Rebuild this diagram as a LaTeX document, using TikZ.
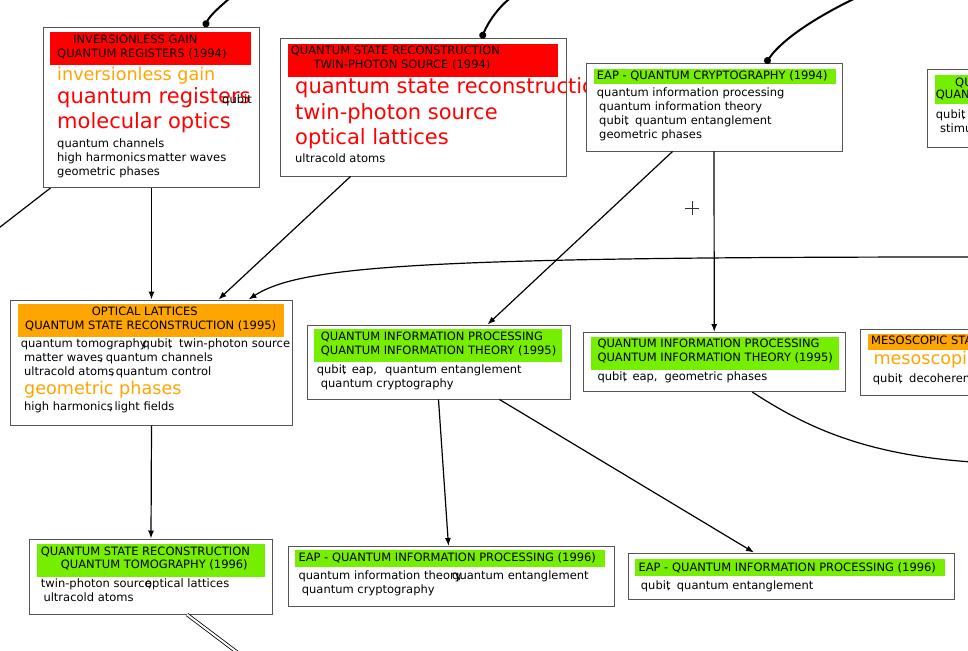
\documentclass[tikz,border=0pt]{standalone}
\usepackage{fontspec}
\setmainfont{DejaVu Sans}
\usetikzlibrary{arrows.meta}
\definecolor{tred}{RGB}{255,0,0}
\definecolor{torange}{RGB}{255,165,0}
\definecolor{tgreen}{RGB}{118,238,0}
\definecolor{frame}{RGB}{85,85,85}
\tikzset{
    box/.style={draw=frame, fill=white, line width=1pt, anchor=north west, inner sep=0pt},
    hdr/.style={anchor=north west, inner sep=0pt, draw=none},
    term/.style={anchor=base west, inner sep=0pt, font=\fontsize{11.5}{13}\selectfont},
    hot/.style={term, text=tred, font=\fontsize{21}{24}\selectfont},
    warm/.style={term, text=torange, font=\fontsize{17.6}{20}\selectfont}
}

\begin{document}
\begin{tikzpicture}[
            x=1pt, y=-1pt,
            causal/.style={-{Latex[length=8pt, width=6pt]}, line width=1.2pt},
            feed/.style={-{Circle[length=7pt]}, line width=2pt},
            link/.style={line width=1.2pt},
            twin/.style={double, double distance=2pt, line width=0.8pt}
        ]
            \useasboundingbox (0,0) rectangle (968,650);
            \clip (0,0) rectangle (968,650);

            % Inversionless Gain (1994)
            \node[box, minimum width=216pt, minimum height=160pt] (boxA) at (43,27) {};
            \node[hdr, fill=tred, minimum width=201pt, minimum height=33pt] (hA) at (50,32) {};
            \node[term] (a1) at (73,43.5) {INVERSIONLESS GAIN};
            \node[term] (a2) at (57,57.5) {QUANTUM REGISTERS (1994)};
            \node[warm] (a3) at (57,80.5) {inversionless gain};
            \node[hot] (a4) at (57,104) {quantum registers};
            \node[term] (a5) at (222,104) {qubit};
            \node[hot] (a6) at (57,128.5) {molecular optics};
            \node[term] (a7) at (57,147.5) {quantum channels};
            \node[term] (a8) at (57,161.5) {high harmonics};
            \node[term] (a9) at (147,161.5) {matter waves};
            \node[term] (a10) at (57,175.5) {geometric phases};

            % Quantum State Reconstruction (1994)
            \node[box, minimum width=286pt, minimum height=137pt] (boxB) at (279.5,38.5) {};
            \node[hdr, fill=tred, minimum width=270pt, minimum height=33pt] (hB) at (288,44) {};
            \node[term] (b1) at (290.7,55) {QUANTUM STATE RECONSTRUCTION};
            \node[term] (b2) at (313.3,69) {TWIN-PHOTON SOURCE (1994)};
            \node[hot] (b3) at (295,94) {quantum state reconstruction};
            \node[hot] (b4) at (295,119) {twin-photon source};
            \node[hot] (b5) at (295,144) {optical lattices};
            \node[term] (b6) at (295,162.7) {ultracold atoms};

            % EAP - Quantum Cryptography (1994)
            \node[box, minimum width=256pt, minimum height=87pt] (boxC) at (585.5,63.5) {};
            \node[hdr, fill=tgreen, minimum width=242pt, minimum height=15pt] (hC) at (594,69) {};
            \node[term] (c1) at (596.7,80) {EAP - QUANTUM CRYPTOGRAPHY (1994)};
            \node[term] (c2) at (596.7,96.5) {quantum information processing};
            \node[term] (c3) at (599,110.5) {quantum information theory};
            \node[term] (c4) at (599,124.5) {qubit\llap{,}};
            \node[term] (c5) at (635,124.5) {quantum entanglement};
            \node[term] (c6) at (599,138) {geometric phases};

            % cut off at the right edge
            \node[box, minimum width=100pt, minimum height=77pt] (boxD) at (926.5,69.5) {};
            \node[hdr, fill=tgreen, minimum width=60pt, minimum height=28.5pt] (hD) at (934.5,75) {};
            \node[term] (d1) at (955,86.5) {QU};
            \node[term] (d2) at (935.7,99) {QUAN};
            \node[term] (d3) at (935.7,118.5) {qubit\llap{,}};
            \node[term] (d4) at (940,132.3) {stimu};

            % Optical Lattices (1995)
            \node[box, minimum width=282pt, minimum height=125pt] (boxE) at (10,299.5) {};
            \node[hdr, fill=torange, minimum width=266.5pt, minimum height=32.5pt] (hE) at (17.5,304) {};
            \node[term] (e1) at (91.7,315) {OPTICAL LATTICES};
            \node[term] (e2) at (25,329) {QUANTUM STATE RECONSTRUCTION (1995)};
            \node[term] (e3) at (20.7,347.3) {quantum tomography\llap{,}};
            \node[term] (e4) at (142.5,347.3) {qubit\llap{,}};
            \node[term] (e5) at (179,347.3) {twin-photon source};
            \node[term] (e6) at (24,361.3) {matter waves\llap{,}};
            \node[term] (e7) at (105.7,361.3) {quantum channels};
            \node[term] (e8) at (24,375) {ultracold atoms\llap{,}};
            \node[term] (e9) at (115.7,375) {quantum control};
            \node[warm] (e10) at (24,394.3) {geometric phases};
            \node[term] (e11) at (24,410.7) {high harmonics\llap{,}};
            \node[term] (e12) at (114.3,410.7) {light fields};

            % Quantum Information Processing (1995), left
            \node[box, minimum width=263pt, minimum height=74pt] (boxF) at (306.5,324.5) {};
            \node[hdr, fill=tgreen, minimum width=247.5pt, minimum height=33pt] (hF) at (314,328.5) {};
            \node[term] (f1) at (320.7,340.7) {QUANTUM INFORMATION PROCESSING};
            \node[term] (f2) at (320.7,354) {QUANTUM INFORMATION THEORY (1995)};
            \node[term] (f3) at (316.7,373.3) {qubit\llap{,}};
            \node[term] (f4) at (351.7,373.3) {eap,};
            \node[term] (f5) at (385,373.3) {quantum entanglement};
            \node[term] (f6) at (320.7,387.3) {quantum cryptography};

            % Quantum Information Processing (1995), right
            \node[box, minimum width=262.5pt, minimum height=59pt] (boxG) at (582.5,332) {};
            \node[hdr, fill=tgreen, minimum width=247.5pt, minimum height=33.5pt] (hG) at (591,336.5) {};
            \node[term] (g1) at (597.3,347.7) {QUANTUM INFORMATION PROCESSING};
            \node[term] (g2) at (597.3,361.3) {QUANTUM INFORMATION THEORY (1995)};
            \node[term] (g3) at (597.3,380.7) {qubit\llap{,}};
            \node[term] (g4) at (632.3,380.7) {eap,};
            \node[term] (g5) at (664.3,380.7) {geometric phases};

            % cut off at the right edge
            \node[box, minimum width=150pt, minimum height=66.5pt] (boxH) at (859.5,328.5) {};
            \node[hdr, fill=torange, minimum width=150pt, minimum height=16.5pt] (hH) at (867.5,333.5) {};
            \node[term] (h1) at (871,344.5) {MESOSCOPIC STA};
            \node[warm] (h2) at (873.3,364) {mesoscopi};
            \node[term] (h3) at (872.7,382.7) {qubit\llap{,}};
            \node[term] (h4) at (909,382.7) {decoheren};

            % Quantum State Reconstruction (1996)
            \node[box, minimum width=243pt, minimum height=75pt] (boxI) at (29,538.5) {};
            \node[hdr, fill=tgreen, minimum width=228.5pt, minimum height=32.5pt] (hI) at (36.5,544) {};
            \node[term] (i1) at (40.7,555) {QUANTUM STATE RECONSTRUCTION};
            \node[term] (i2) at (60.7,568.3) {QUANTUM TOMOGRAPHY (1996)};
            \node[term] (i3) at (40.7,587.3) {twin-photon source\llap{,}};
            \node[term] (i4) at (145,587.3) {optical lattices};
            \node[term] (i5) at (43.3,601.3) {ultracold atoms};

            % EAP - Quantum Information Processing (1996), left
            \node[box, minimum width=326pt, minimum height=60pt] (boxJ) at (287.5,546) {};
            \node[hdr, fill=tgreen, minimum width=310pt, minimum height=17pt] (hJ) at (295,550) {};
            \node[term] (j1) at (298.3,561.7) {EAP - QUANTUM INFORMATION PROCESSING (1996)};
            \node[term] (j2) at (298.3,579) {quantum information theory\llap{,}};
            \node[term] (j3) at (452,579) {quantum entanglement};
            \node[term] (j4) at (301.7,593.3) {quantum cryptography};

            % EAP - Quantum Information Processing (1996), right
            \node[box, minimum width=326pt, minimum height=46pt] (boxK) at (627.5,552.5) {};
            \node[hdr, fill=tgreen, minimum width=310pt, minimum height=17.5pt] (hK) at (635,558.5) {};
            \node[term] (k1) at (638.3,571.7) {EAP - QUANTUM INFORMATION PROCESSING (1996)};
            \node[term] (k2) at (640.7,589.3) {qubit\llap{,}};
            \node[term] (k3) at (676.7,589.3) {quantum entanglement};

            % coming in from above
            \coordinate (inA) at (231,-3);
            \coordinate (inB) at (512,-3);
            \coordinate (inC) at (858,-3);
            \draw[feed] (inA) .. controls (222,5) and (210,15) .. ([xshift=53pt]boxA.north);
            \draw[feed] (inB) .. controls (500,5) and (488,22) .. ([xshift=58.5pt]boxB.north);
            \draw[feed] (inC) .. controls (830,10) and (785,35) .. ([xshift=51.5pt]boxC.north);

            % links
            \coordinate (outA) at (-5,231);
            \coordinate (inE) at (972,257);
            \coordinate (outG) at (972,462);
            \coordinate (outI) at (242,656);
            \draw[link] ([xshift=-101pt]boxA.south) -- (outA);
            \draw[causal] (boxA.south) -- (boxE.north);
            \draw[causal] ([xshift=-72.5pt]boxB.south) -- ([xshift=67pt]boxE.north);
            \draw[causal] (inE) .. controls (420,257) and (300,266) .. ([xshift=97pt]boxE.north);
            \draw[causal] ([xshift=-41.5pt]boxC.south) -- ([xshift=49pt]boxF.north);
            \draw[causal] (boxC.south) -- (boxG.north);
            \draw[link] ([xshift=38pt]boxG.south) .. controls (810,430) and (870,455) .. (outG);
            \draw[causal] (boxF.south) -- ([xshift=-2.5pt]boxJ.north);
            \draw[causal] ([xshift=61pt]boxF.south) -- ([xshift=-37pt]boxK.north);
            \draw[causal] (boxE.south) -- (boxI.north);
            \draw[twin] ([xshift=36pt]boxI.south) -- (outI);

            % cursor
            \coordinate (cursor) at (692,208);
            \draw[line width=0.6pt, black!80] ([xshift=-7pt]cursor) -- ([xshift=7pt]cursor)
                ([yshift=-7pt]cursor) -- ([yshift=7pt]cursor);

        \end{tikzpicture}
\end{document}
